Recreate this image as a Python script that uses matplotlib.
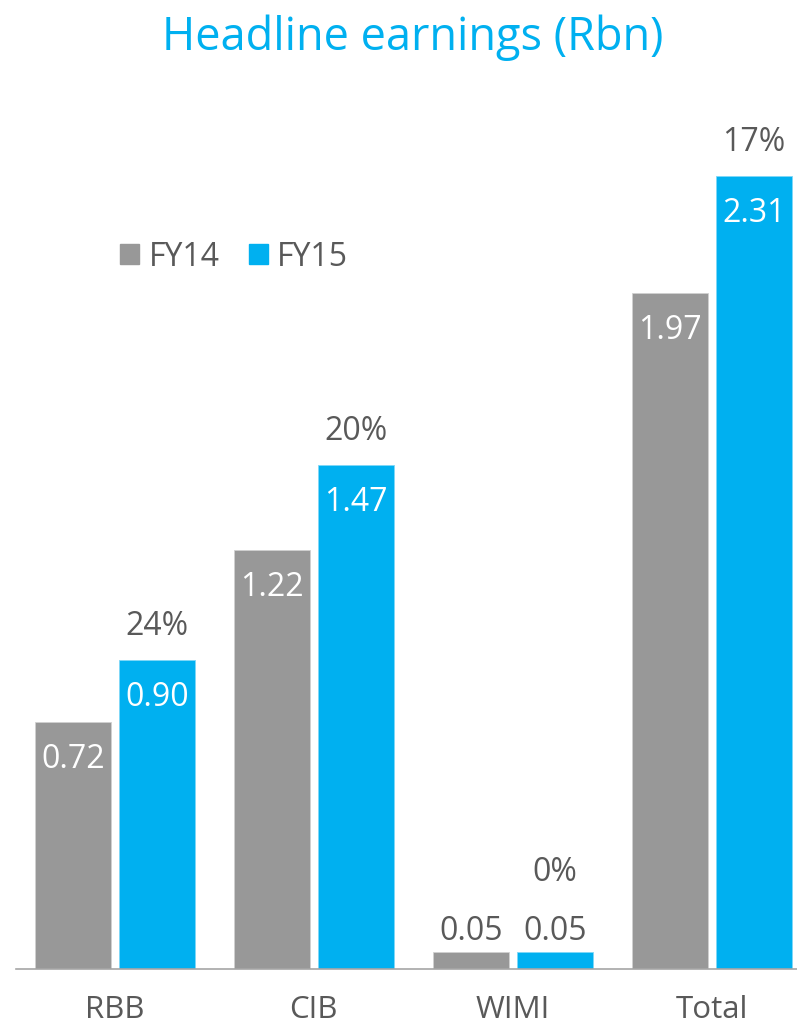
from matplotlib import pyplot as plt
from matplotlib.patches import Patch
import numpy as np

plt.rcParams['font.family'] = ['Open Sans', 'DejaVu Sans']

# Headline earnings per division, Rbn
divisions = ["RBB", "CIB", "WIMI", "Total"]
fy14 = [0.72, 1.22, 0.05, 1.97]
fy15 = [0.90, 1.47, 0.05, 2.31]
growth = ["24%", "20%", "0%", "17%"]

GREY = "#989898"
BLUE = "#00B0F0"
TEXT = "#595959"

fig = plt.figure(figsize=(7.97, 10.26), dpi=100)
ax = fig.add_axes([16/797, 57/1026, 781/797, 892/1026])

x = np.arange(len(divisions))
width = 0.382
off = 0.211
bars14 = ax.bar(x - off, fy14, width, color=GREY, edgecolor="#d0d0d0", linewidth=0.6)
bars15 = ax.bar(x + off, fy15, width, color=BLUE, edgecolor="#7fd7f7", linewidth=0.6)

ax.set_xlim(-0.497, 3.428)
ax.set_ylim(0, 2.6)

# value labels: inside tall bars, above the short ones
for bars in (bars14, bars15):
    for b in bars:
        h = b.get_height()
        cx = b.get_x() + b.get_width()/2
        if h > 0.3:
            ax.annotate(f"{h:.2f}", (cx, h), xytext=(0, -33), textcoords="offset points",
                        ha="center", va="baseline", color="white", fontsize=23)
        else:
            ax.annotate(f"{h:.2f}", (cx, h), xytext=(0, 8.6), textcoords="offset points",
                        ha="center", va="baseline", color=TEXT, fontsize=23)

# growth above FY15 bars
for b, g in zip(bars15, growth):
    h = b.get_height()
    cx = b.get_x() + b.get_width()/2
    dy = 51 if h < 0.3 else 18
    ax.annotate(g, (cx, h), xytext=(0, dy), textcoords="offset points",
                ha="center", va="baseline", color=TEXT, fontsize=23)

ax.set_xticks(x)
ax.set_xticklabels(divisions, fontsize=22.5, color=TEXT)
ax.tick_params(axis="x", length=0, pad=19)
ax.set_yticks([])
for s in ("left", "right", "top"):
    ax.spines[s].set_visible(False)
ax.spines["bottom"].set_color("#a6a6a6")
ax.spines["bottom"].set_linewidth(1.2)

handles = [Patch(color=GREY, label="FY14"), Patch(color=BLUE, label="FY15")]
leg = ax.legend(handles=handles, ncol=2, frameon=False, fontsize=23,
                loc="center left", bbox_to_anchor=(120/797, 1 - 257/1026),
                bbox_transform=fig.transFigure, handlelength=0.6, handleheight=0.6,
                handletextpad=0.3, columnspacing=0.9, borderaxespad=0, borderpad=0)
for t in leg.get_texts():
    t.set_color(TEXT)

fig.text(413/797, 1 - 38/1026, "Headline earnings (Rbn)", ha="center", va="center",
         color=BLUE, fontsize=32.5)

fig.savefig("out.png", dpi=100)
